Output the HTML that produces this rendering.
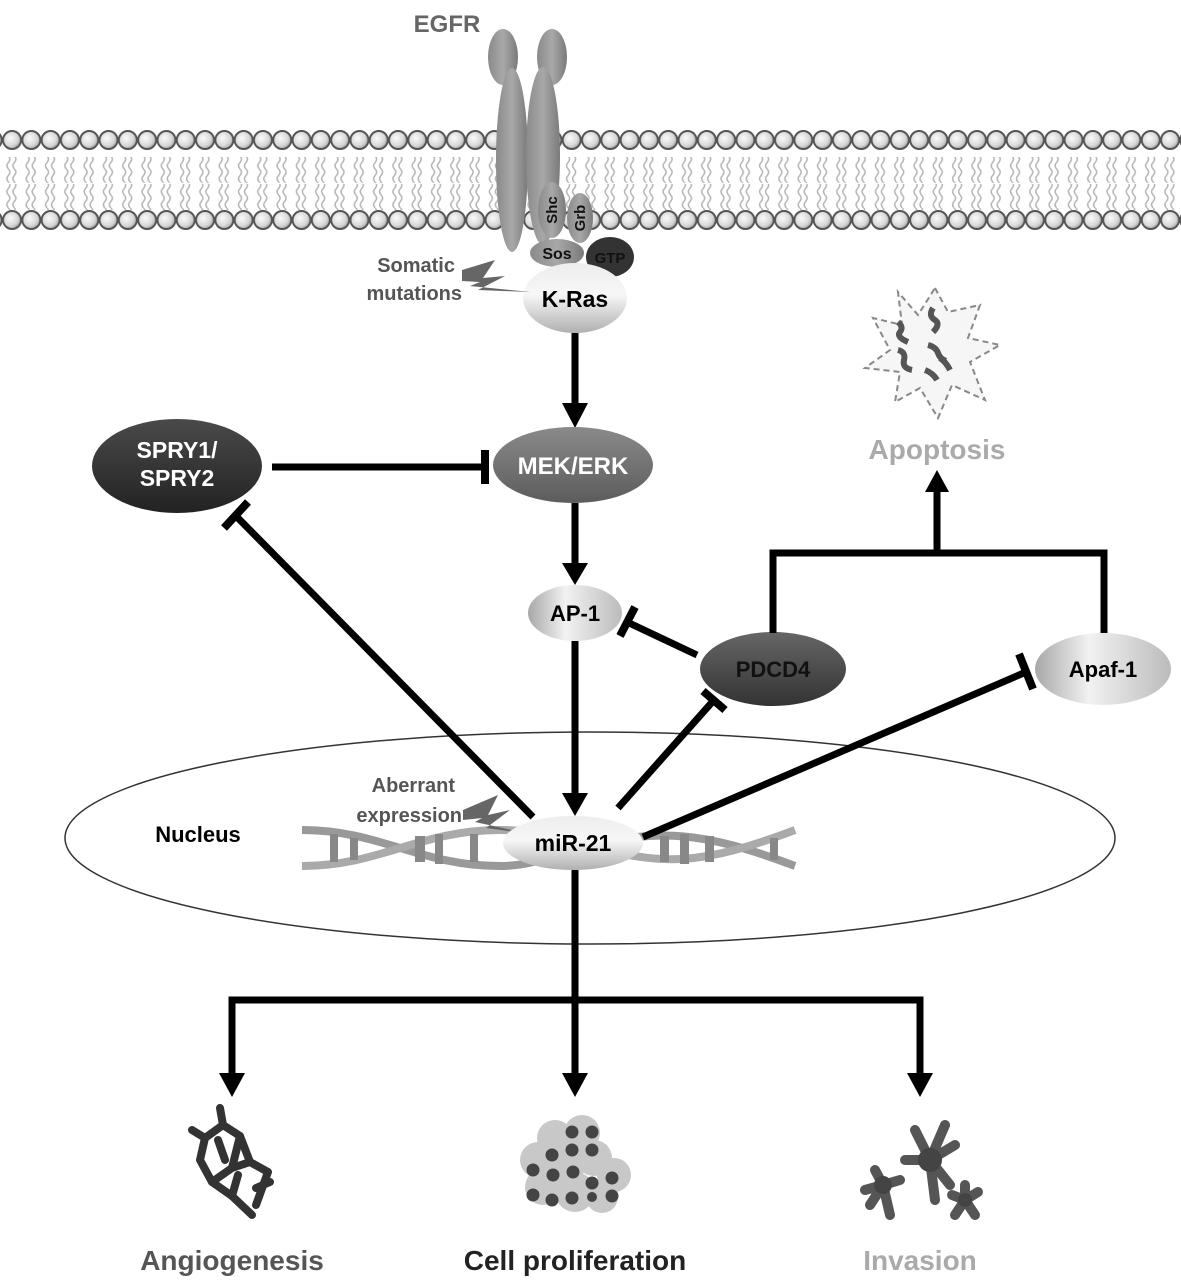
<!DOCTYPE html>
<html><head><meta charset="utf-8"><style>
html,body{margin:0;padding:0;background:#fff;}
svg{display:block;}
text{font-family:"Liberation Sans",sans-serif;font-weight:bold;}
</style></head><body>
<svg width="1181" height="1288" viewBox="0 0 1181 1288" xmlns="http://www.w3.org/2000/svg">
<defs>
<radialGradient id="bead" cx="0.4" cy="0.4" r="0.6"><stop offset="0" stop-color="#fafafa"/><stop offset="0.7" stop-color="#d8d8d8"/><stop offset="1" stop-color="#aaa"/></radialGradient>
<pattern id="beads" x="2.4" y="0" width="19.3" height="40" patternUnits="userSpaceOnUse">
<circle cx="9.65" cy="20" r="9" fill="url(#bead)" stroke="#555" stroke-width="2"/></pattern>
<pattern id="tails" x="2.4" y="0" width="19.3" height="26" patternUnits="userSpaceOnUse">
<path d="M6 0 q3 3 0 6.5 q-3 3 0 6.5 q3 3 0 6.5 q-3 3 0 6.5 M12 0 q3 3 0 6.5 q-3 3 0 6.5 q3 3 0 6.5 q-3 3 0 6.5" fill="none" stroke="#b5b5b5" stroke-width="1.5"/></pattern>
<linearGradient id="light" x1="0" y1="0" x2="0" y2="1"><stop offset="0" stop-color="#ededed"/><stop offset="0.45" stop-color="#f7f7f7"/><stop offset="1" stop-color="#b0b0b0"/></linearGradient>
<linearGradient id="lightH" x1="0" y1="0" x2="1" y2="0"><stop offset="0" stop-color="#a8a8a8"/><stop offset="0.4" stop-color="#f2f2f2"/><stop offset="1" stop-color="#bbb"/></linearGradient>
<linearGradient id="mid" x1="0" y1="0" x2="0" y2="1"><stop offset="0" stop-color="#8a8a8a"/><stop offset="1" stop-color="#5c5c5c"/></linearGradient>
<linearGradient id="dark" x1="0" y1="0" x2="0" y2="1"><stop offset="0" stop-color="#4a4a4a"/><stop offset="1" stop-color="#222"/></linearGradient>
<linearGradient id="dark2" x1="0" y1="0" x2="0" y2="1"><stop offset="0" stop-color="#666"/><stop offset="1" stop-color="#333"/></linearGradient>
<linearGradient id="rec" x1="0" y1="0" x2="1" y2="0"><stop offset="0" stop-color="#8a8a8a"/><stop offset="0.5" stop-color="#a8a8a8"/><stop offset="1" stop-color="#7a7a7a"/></linearGradient>
</defs>

<rect x="0" y="157" width="1181" height="26" fill="url(#tails)"/>
<rect x="0" y="184" width="1181" height="26" fill="url(#tails)"/>
<rect x="0" y="124" width="1181" height="40" fill="url(#beads)"/>
<rect x="0" y="199" width="1181" height="40" fill="url(#beads)"/>

<text x="447" y="32" font-size="24" fill="#666" text-anchor="middle">EGFR</text>
<ellipse cx="503" cy="57" rx="15" ry="28" fill="url(#rec)"/>
<ellipse cx="552" cy="57" rx="15" ry="28" fill="url(#rec)"/>
<ellipse cx="512" cy="160" rx="16" ry="92" fill="url(#rec)"/>
<ellipse cx="543" cy="156" rx="17" ry="89" fill="url(#rec)"/>
<ellipse cx="552" cy="210" rx="14" ry="28" fill="url(#rec)"/>
<text transform="translate(557,210) rotate(-90)" font-size="15" text-anchor="middle" fill="#111">Shc</text>
<ellipse cx="580" cy="218" rx="13" ry="25" fill="url(#rec)"/>
<text transform="translate(585,218) rotate(-90)" font-size="15" text-anchor="middle" fill="#111">Grb</text>
<ellipse cx="557" cy="253" rx="27" ry="14" fill="url(#rec)"/>
<text x="557" y="259" font-size="16" text-anchor="middle" fill="#111">Sos</text>
<ellipse cx="610" cy="257" rx="24" ry="20" fill="#333"/>
<text x="610" y="263" font-size="15" text-anchor="middle" fill="#111" font-weight="normal">GTP</text>
<ellipse cx="575" cy="298" rx="52" ry="35" fill="url(#light)"/>
<text x="575" y="307" font-size="23" text-anchor="middle" fill="#000">K-Ras</text>
<text x="455" y="272" font-size="20" text-anchor="end" fill="#555">Somatic</text>
<text x="462" y="300" font-size="20" text-anchor="end" fill="#555">mutations</text>
<polygon points="462,270 495,260 483,278 505,276 478,290 530,292 470,286 480,282 462,281" fill="#666"/>

<line x1="575" y1="333" x2="575" y2="405" stroke="#000" stroke-width="7"/>
<polygon points="562,403 588,403 575,428" fill="#000"/>

<ellipse cx="573" cy="465" rx="80" ry="38" fill="url(#mid)"/>
<text x="573" y="474" font-size="24" text-anchor="middle" fill="#fff">MEK/ERK</text>
<ellipse cx="177" cy="466" rx="85" ry="47" fill="url(#dark)"/>
<text x="177" y="458" font-size="23" text-anchor="middle" fill="#fff">SPRY1/</text>
<text x="177" y="486" font-size="23" text-anchor="middle" fill="#fff">SPRY2</text>
<line x1="272" y1="467" x2="485" y2="467" stroke="#000" stroke-width="7"/>
<line x1="485" y1="450" x2="485" y2="484" stroke="#000" stroke-width="8"/>

<line x1="575" y1="503" x2="575" y2="565" stroke="#000" stroke-width="7"/>
<polygon points="562,563 588,563 575,585" fill="#000"/>
<ellipse cx="575" cy="613" rx="47" ry="28" fill="url(#lightH)"/>
<text x="575" y="621" font-size="22" text-anchor="middle" fill="#000">AP-1</text>

<ellipse cx="773" cy="669" rx="73" ry="37" fill="url(#dark2)"/>
<text x="773" y="677" font-size="22" text-anchor="middle" fill="#111" font-weight="normal">PDCD4</text>
<line x1="697" y1="655" x2="627" y2="622" stroke="#000" stroke-width="7"/>
<line x1="635" y1="607" x2="620" y2="636" stroke="#000" stroke-width="8"/>

<ellipse cx="1103" cy="669" rx="68" ry="36" fill="url(#lightH)"/>
<text x="1103" y="677" font-size="22" text-anchor="middle" fill="#000">Apaf-1</text>

<polyline points="773,633 773,553 1104,553 1104,633" fill="none" stroke="#000" stroke-width="7"/>
<line x1="937" y1="553" x2="937" y2="490" stroke="#000" stroke-width="7"/>
<polygon points="925,492 949,492 937,470" fill="#000"/>
<text x="937" y="459" font-size="28" text-anchor="middle" fill="#aaa">Apoptosis</text>
<polygon points="935,288 948,312 980,305 968,338 1000,345 970,362 985,400 952,385 938,418 920,388 895,402 900,372 865,368 890,350 873,318 902,325 898,292 918,315" fill="#f6f6f6" stroke="#888" stroke-width="2" stroke-dasharray="6,4"/>
<path d="M898 322 q6 5 2 10 q-4 5 8 10 M933 308 q-5 8 2 12 q6 4 -2 12 M898 350 q8 2 6 10 q-2 8 8 10 M928 345 q8 2 10 8 q2 6 8 8 M925 370 q8 3 12 10 M940 358 q6 4 10 12" fill="none" stroke="#555" stroke-width="6"/>

<ellipse cx="590" cy="838" rx="525" ry="106" fill="none" stroke="#333" stroke-width="1.5"/>
<text x="198" y="842" font-size="22" text-anchor="middle" fill="#000">Nucleus</text>
<path d="M302 830 C380 830 420 866 500 866 C540 866 560 850 590 845 C660 830 700 830 795 866" fill="none" stroke="#999" stroke-width="8"/>
<path d="M302 866 C380 866 420 830 500 830 C540 830 560 840 590 845 C660 866 700 866 795 830" fill="none" stroke="#aaa" stroke-width="8"/>
<g fill="#888">
<rect x="330" y="834" width="8" height="28"/><rect x="350" y="838" width="8" height="22"/><rect x="415" y="836" width="10" height="26"/><rect x="435" y="834" width="8" height="30"/><rect x="470" y="834" width="8" height="28"/>
<rect x="660" y="836" width="9" height="26"/><rect x="680" y="834" width="9" height="30"/><rect x="705" y="836" width="9" height="26"/><rect x="770" y="838" width="8" height="22"/>
</g>
<text x="455" y="792" font-size="20" text-anchor="end" fill="#555">Aberrant</text>
<text x="462" y="822" font-size="20" text-anchor="end" fill="#555">expression</text>
<polygon points="463,810 498,795 488,815 510,810 486,828 530,834 475,822 482,818 463,820" fill="#666"/>

<line x1="575" y1="641" x2="575" y2="795" stroke="#000" stroke-width="7"/>
<polygon points="562,793 588,793 575,816" fill="#000"/>

<ellipse cx="573" cy="843" rx="70" ry="27" fill="url(#light)"/>
<text x="573" y="851" font-size="23" text-anchor="middle" fill="#000">miR-21</text>

<line x1="533" y1="817" x2="236" y2="516" stroke="#000" stroke-width="7"/>
<line x1="248" y1="502" x2="224" y2="528" stroke="#000" stroke-width="8"/>
<line x1="618" y1="808" x2="714" y2="700" stroke="#000" stroke-width="7"/>
<line x1="703" y1="691" x2="725" y2="710" stroke="#000" stroke-width="8"/>
<line x1="643" y1="837" x2="1026" y2="672" stroke="#000" stroke-width="7"/>
<line x1="1019" y1="654" x2="1033" y2="689" stroke="#000" stroke-width="8"/>

<line x1="575" y1="870" x2="575" y2="1000" stroke="#000" stroke-width="7"/>
<polyline points="232,1075 232,1000 920,1000 920,1075" fill="none" stroke="#000" stroke-width="7"/>
<line x1="575" y1="1000" x2="575" y2="1075" stroke="#000" stroke-width="7"/>
<polygon points="219,1073 245,1073 232,1097" fill="#000"/>
<polygon points="562,1073 588,1073 575,1097" fill="#000"/>
<polygon points="907,1073 933,1073 920,1097" fill="#000"/>

<g fill="none" stroke="#333" stroke-width="8" stroke-linecap="round" stroke-linejoin="round">
<path d="M220 1108 L223 1125 L205 1138 L200 1160 L212 1182 L232 1196 L252 1215"/>
<path d="M223 1125 L240 1136 L250 1162 L268 1172 L256 1205"/>
<path d="M192 1130 L205 1138 M240 1136 L232 1168 L212 1182 M250 1162 L232 1168 M256 1188 L270 1182 M232 1196 L238 1175 M218 1140 L225 1160"/>
</g>
<g fill="#c8c8c8">
<circle cx="555" cy="1138" r="18"/><circle cx="582" cy="1133" r="18"/><circle cx="538" cy="1160" r="18"/><circle cx="565" cy="1165" r="20"/><circle cx="594" cy="1158" r="18"/><circle cx="614" cy="1175" r="17"/><circle cx="543" cy="1187" r="18"/><circle cx="575" cy="1192" r="20"/><circle cx="602" cy="1197" r="16"/><circle cx="560" cy="1175" r="16"/>
</g>
<g fill="#444">
<circle cx="552" cy="1155" r="6.5"/><circle cx="572" cy="1150" r="6.5"/><circle cx="592" cy="1150" r="6.5"/><circle cx="533" cy="1170" r="6.5"/><circle cx="553" cy="1175" r="6.5"/><circle cx="573" cy="1172" r="6.5"/><circle cx="592" cy="1183" r="6.5"/><circle cx="612" cy="1178" r="6.5"/><circle cx="533" cy="1195" r="6.5"/><circle cx="552" cy="1200" r="6.5"/><circle cx="572" cy="1198" r="6.5"/><circle cx="592" cy="1197" r="5"/><circle cx="612" cy="1196" r="6.5"/><circle cx="572" cy="1132" r="6.5"/><circle cx="592" cy="1132" r="6.5"/>
</g>
<g stroke="#555" stroke-width="10" stroke-linecap="round" fill="none">
<path d="M930 1160 L945 1125 M930 1160 L905 1160 M930 1160 L950 1185 M930 1160 L955 1145 M930 1160 L935 1200 M930 1160 L915 1130"/>
<path d="M883 1185 L870 1205 M883 1185 L890 1215 M883 1185 L900 1180 M883 1185 L875 1170 M883 1185 L865 1190"/>
<path d="M965 1200 L965 1185 M965 1200 L978 1192 M965 1200 L975 1215 M965 1200 L955 1215 M965 1200 L952 1195"/>
</g>
<circle cx="930" cy="1160" r="12" fill="#444"/><circle cx="883" cy="1185" r="9" fill="#444"/><circle cx="965" cy="1200" r="7" fill="#444"/>

<text x="232" y="1270" font-size="28" text-anchor="middle" fill="#555">Angiogenesis</text>
<text x="575" y="1270" font-size="28" text-anchor="middle" fill="#222">Cell proliferation</text>
<text x="920" y="1270" font-size="28" text-anchor="middle" fill="#aaa">Invasion</text>
</svg>
</body></html>
